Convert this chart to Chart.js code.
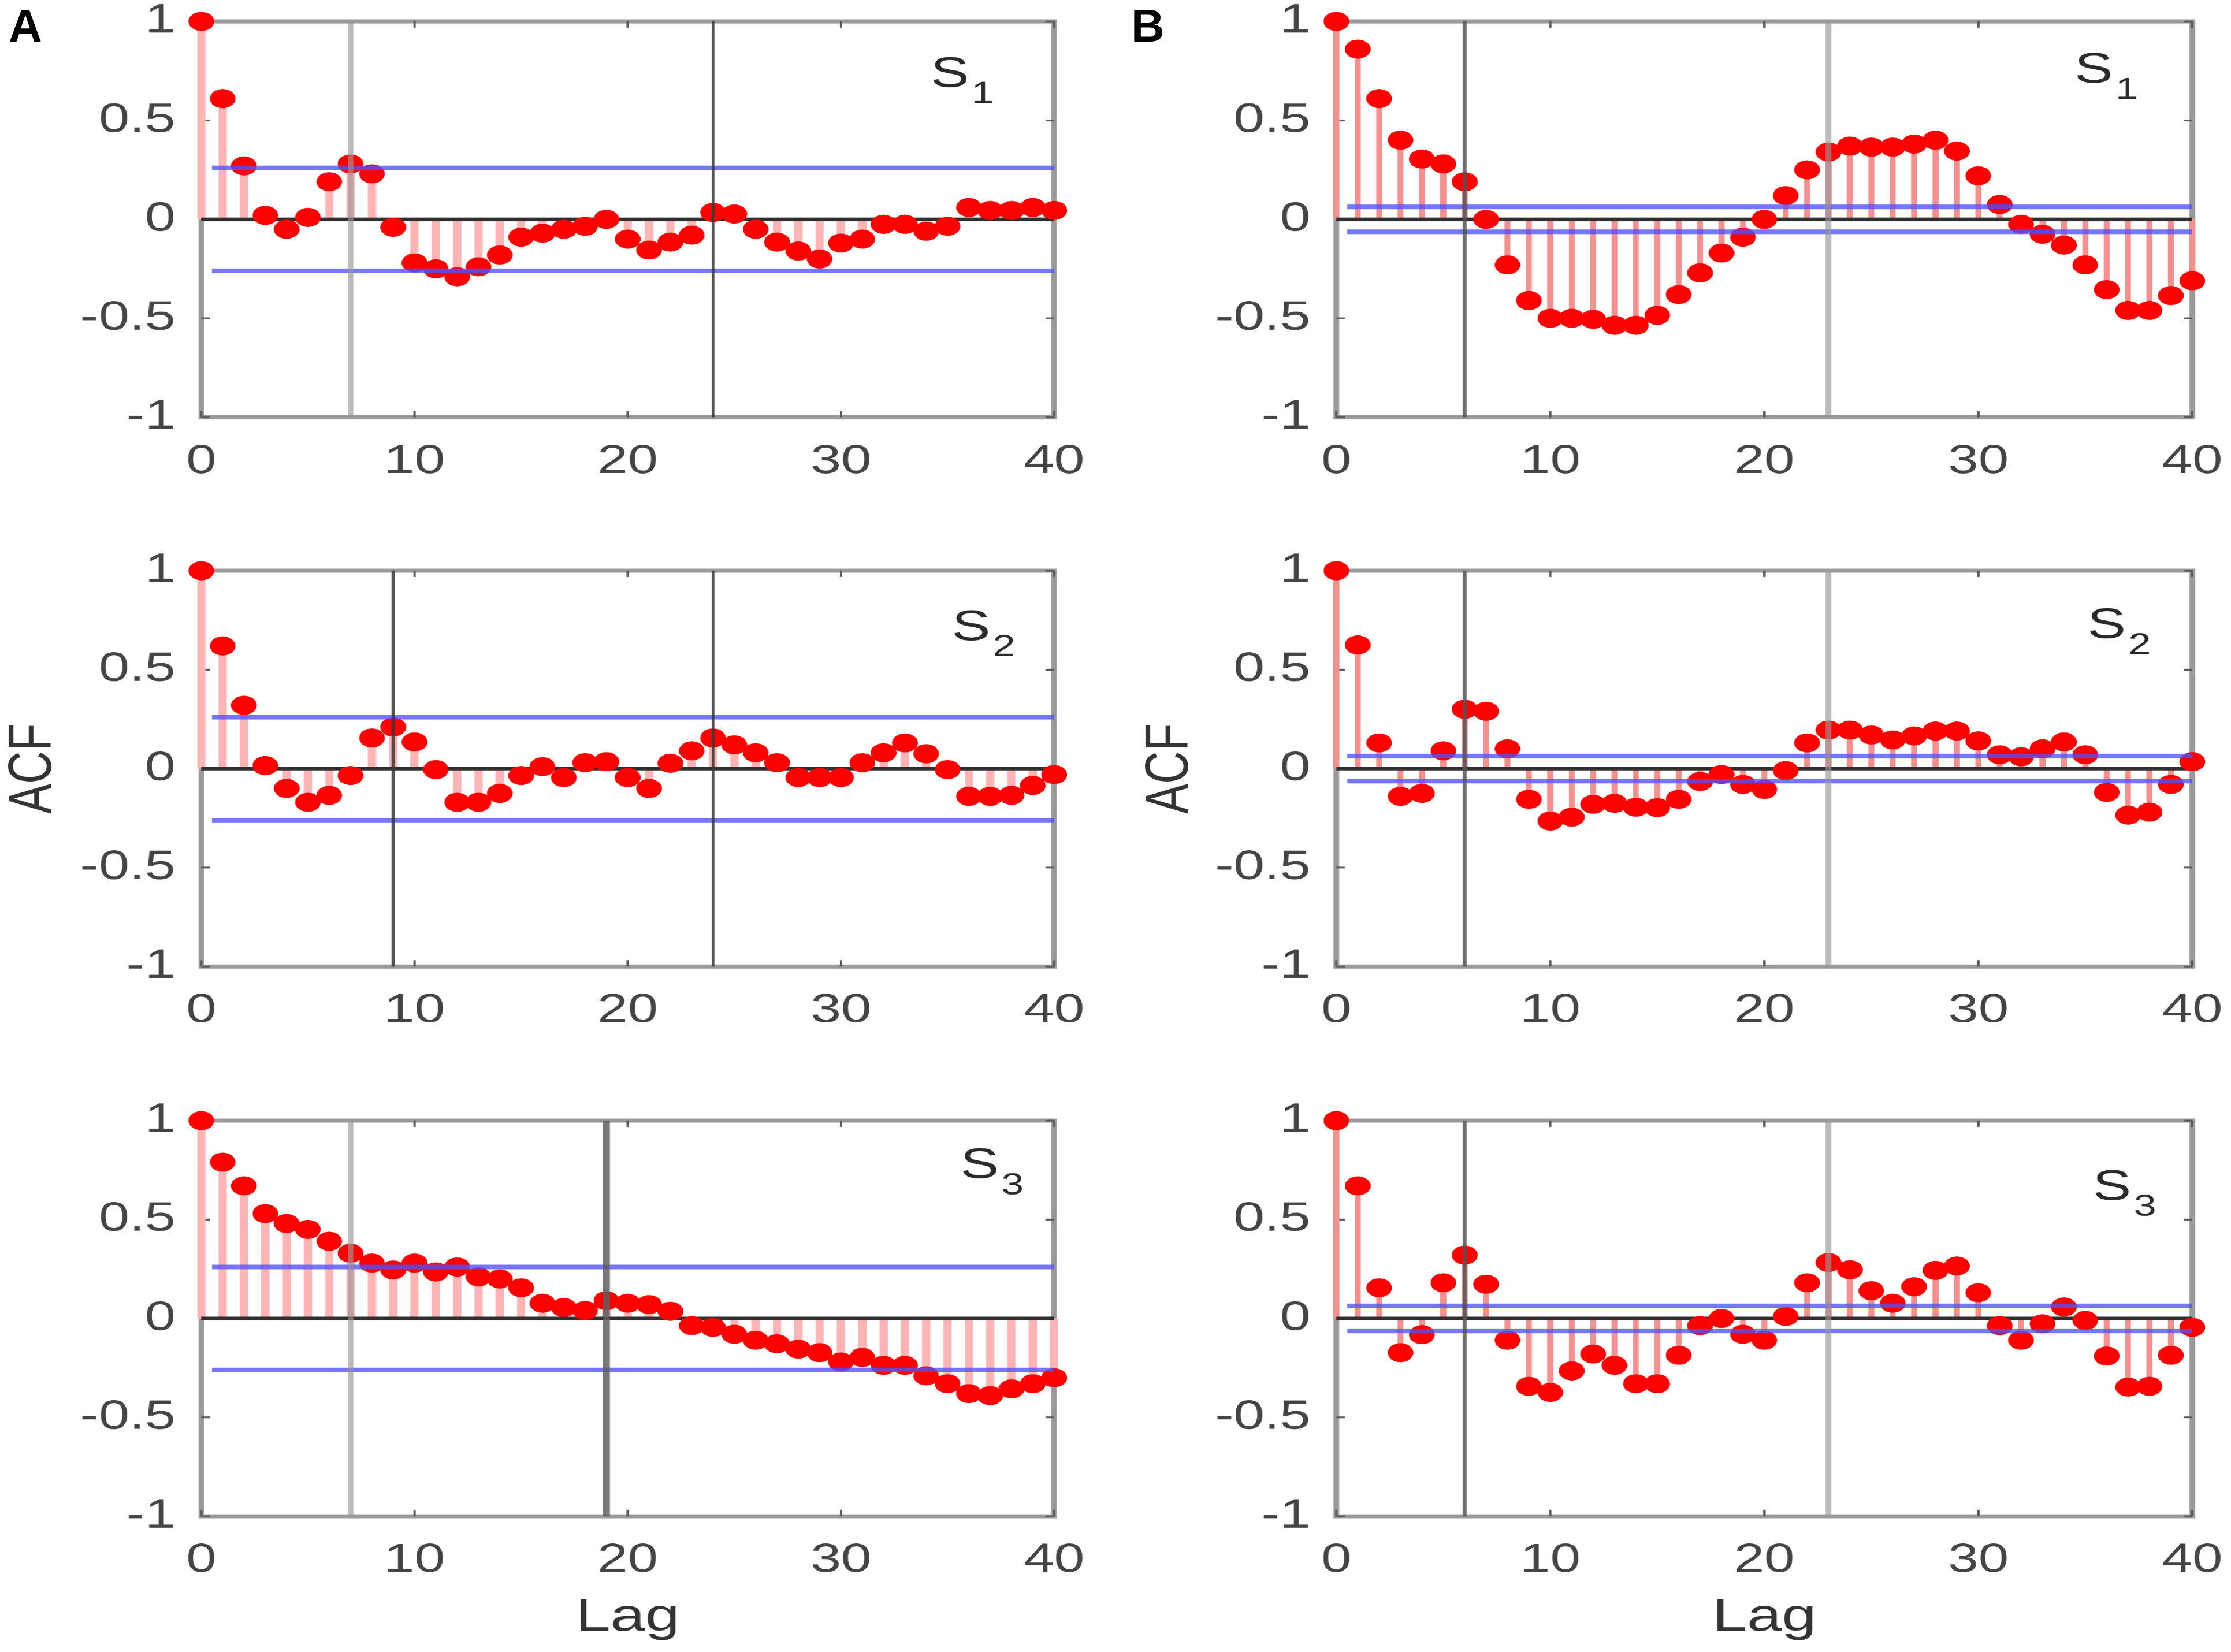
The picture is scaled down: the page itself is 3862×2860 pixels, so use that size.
<!DOCTYPE html>
<html>
<head>
<meta charset="utf-8">
<script src="https://cdn.jsdelivr.net/npm/chart.js@4.4.1/dist/chart.umd.min.js"></script>
<style>
  html, body { margin:0; padding:0; background:#fff; width:3862px; height:2860px; overflow:hidden; }
  #fig { position:absolute; left:0; top:0; width:2860px; height:2860px; transform:scaleX(1.35035); transform-origin:0 0; }
  #fig canvas { position:absolute; }
  .plabel { position:absolute; font-family:'Liberation Sans', Arial, sans-serif; font-weight:bold; font-size:80px; line-height:80px; color:#000; }
</style>
</head>
<body>
<div id="fig">
  <canvas id="cA1" width="1430" height="862" style="left:0px;top:0px"></canvas>
  <canvas id="cB1" width="1430" height="862" style="left:1430px;top:0px"></canvas>
  <canvas id="cA2" width="1430" height="887" style="left:0px;top:926px"></canvas>
  <canvas id="cB2" width="1430" height="887" style="left:1430px;top:926px"></canvas>
  <canvas id="cA3" width="1430" height="963" style="left:0px;top:1878px"></canvas>
  <canvas id="cB3" width="1430" height="963" style="left:1430px;top:1878px"></canvas>
</div>
<div class="plabel" style="left:15px;top:5px">A</div>
<div class="plabel" style="left:1958px;top:5px">B</div>

<script>
// ---------------- DATA ----------------
const lags = [0,1,2,3,4,5,6,7,8,9,10,11,12,13,14,15,16,17,18,19,20,21,22,23,24,25,26,27,28,29,30,31,32,33,34,35,36,37,38,39,40];
const xTickValues = [0, 10, 20, 30, 40];
const xTickLabels = ['0', '10', '20', '30', '40'];
const yTickValues = [-1, -0.5, 0, 0.5, 1];
const yTickLabels = ['-1', '-0.5', '0', '0.5', '1'];

const acfA1 = [1, 0.61, 0.27, 0.02, -0.05, 0.01, 0.19, 0.28, 0.23, -0.04, -0.22, -0.25, -0.29, -0.24, -0.18, -0.09, -0.07, -0.05, -0.035, 0.0, -0.10, -0.155, -0.115, -0.08, 0.035, 0.027, -0.05, -0.115, -0.16, -0.2, -0.12, -0.10, -0.025, -0.025, -0.06, -0.035, 0.06, 0.045, 0.045, 0.06, 0.045];
const acfA2 = [1, 0.62, 0.32, 0.015, -0.10, -0.17, -0.135, -0.035, 0.155, 0.21, 0.135, -0.005, -0.17, -0.17, -0.125, -0.035, 0.01, -0.045, 0.03, 0.035, -0.045, -0.10, 0.027, 0.09, 0.155, 0.12, 0.08, 0.03, -0.045, -0.045, -0.045, 0.03, 0.08, 0.13, 0.075, -0.005, -0.14, -0.14, -0.135, -0.085, -0.03];
const acfA3 = [1, 0.79, 0.67, 0.53, 0.48, 0.45, 0.39, 0.33, 0.28, 0.245, 0.28, 0.235, 0.26, 0.21, 0.20, 0.155, 0.077, 0.055, 0.04, 0.09, 0.077, 0.07, 0.036, -0.036, -0.045, -0.08, -0.11, -0.128, -0.155, -0.173, -0.22, -0.197, -0.237, -0.237, -0.29, -0.33, -0.38, -0.39, -0.356, -0.33, -0.30];
const acfB1 = [1, 0.86, 0.61, 0.40, 0.305, 0.28, 0.19, 0.0, -0.23, -0.41, -0.50, -0.50, -0.505, -0.535, -0.535, -0.485, -0.38, -0.27, -0.17, -0.09, 0.0, 0.12, 0.25, 0.34, 0.37, 0.365, 0.365, 0.38, 0.40, 0.345, 0.22, 0.075, -0.025, -0.075, -0.13, -0.23, -0.355, -0.46, -0.46, -0.385, -0.31];
const acfB2 = [1, 0.625, 0.13, -0.14, -0.125, 0.09, 0.30, 0.29, 0.10, -0.155, -0.265, -0.245, -0.18, -0.175, -0.195, -0.197, -0.155, -0.065, -0.03, -0.08, -0.105, -0.01, 0.13, 0.195, 0.195, 0.17, 0.145, 0.165, 0.19, 0.19, 0.14, 0.07, 0.06, 0.10, 0.135, 0.07, -0.12, -0.235, -0.22, -0.08, 0.035];
const acfB3 = [1, 0.67, 0.155, -0.173, -0.082, 0.18, 0.32, 0.173, -0.11, -0.343, -0.374, -0.265, -0.18, -0.237, -0.33, -0.33, -0.186, -0.036, 0.0, -0.08, -0.11, 0.01, 0.18, 0.283, 0.246, 0.14, 0.077, 0.16, 0.243, 0.265, 0.13, -0.036, -0.11, -0.027, 0.058, -0.01, -0.19, -0.347, -0.343, -0.186, -0.045];

const boundA1 = 0.26, boundA2 = 0.26, boundA3 = 0.26;
const boundB1 = 0.063, boundB2 = 0.063, boundB3 = 0.063;
const boundStartLag = 0.5, boundEndLag = 40;

const marksA1 = [7, 24];
const marksA2 = [9, 24];
const marksA3 = [7, 19];
const marksB1 = [6, 23];
const marksB2 = [6, 23];
const marksB3 = [6, 23];

const seriesSubs = ['1', '2', '3'];

// ---------------- STYLE / LAYOUT ----------------
const FONT = "'Liberation Sans', Arial, Helvetica, sans-serif";
const LIGHT = { color: 'rgba(150,150,150,0.65)', w: 7 };
const DARK = { color: 'rgba(55,55,55,0.85)', w: 4 };
const DARKTHICK = { color: 'rgba(95,95,95,0.85)', w: 9 };
const MID = { color: 'rgba(85,85,85,0.85)', w: 5 };

const colLayout = {
  A: { yw: 258, padR: 79, stem: '#ffb5b5', stemW: 10, titlePad: 5 },
  B: { yw: 283, padR: 50, stem: '#f39090', stemW: 7, titlePad: 32 }
};
const rowLayout = [
  { padTop: 37, xh: 140 },
  { padTop: 62, xh: 140 },
  { padTop: 62, xh: 216 }
];

const panels = [
  { id: 'cA1', col: 'A', row: 0, acf: acfA1, bound: boundA1, marks: marksA1, markStyle: [LIGHT, DARK], sPos: [34.2, 0.67] },
  { id: 'cA2', col: 'A', row: 1, acf: acfA2, bound: boundA2, marks: marksA2, markStyle: [DARK, DARK], sPos: [35.2, 0.65] },
  { id: 'cA3', col: 'A', row: 2, acf: acfA3, bound: boundA3, marks: marksA3, markStyle: [LIGHT, DARKTHICK], sPos: [35.6, 0.71] },
  { id: 'cB1', col: 'B', row: 0, acf: acfB1, bound: boundB1, marks: marksB1, markStyle: [MID, LIGHT], sPos: [34.5, 0.69] },
  { id: 'cB2', col: 'B', row: 1, acf: acfB2, bound: boundB2, marks: marksB2, markStyle: [MID, LIGHT], sPos: [35.1, 0.66] },
  { id: 'cB3', col: 'B', row: 2, acf: acfB3, bound: boundB3, marks: marksB3, markStyle: [MID, LIGHT], sPos: [35.35, 0.60] }
];

const framePlugin = {
  id: 'frame',
  beforeDatasetsDraw(chart) {
    const { ctx, chartArea: a, scales: { x, y } } = chart;
    ctx.save();
    ctx.strokeStyle = '#9a9a9a';
    ctx.lineWidth = 7;
    ctx.strokeRect(a.left, a.top, a.right - a.left, a.bottom - a.top);
    ctx.strokeStyle = '#5a5a5a';
    ctx.lineWidth = 3;
    ctx.beginPath();
    xTickValues.forEach(v => {
      const px = x.getPixelForValue(v);
      ctx.moveTo(px, a.top); ctx.lineTo(px, a.top + 11);
      ctx.moveTo(px, a.bottom); ctx.lineTo(px, a.bottom - 11);
    });
    yTickValues.forEach(v => {
      const py = y.getPixelForValue(v);
      ctx.moveTo(a.left, py); ctx.lineTo(a.left + 11, py);
      ctx.moveTo(a.right, py); ctx.lineTo(a.right - 11, py);
    });
    ctx.stroke();
    ctx.restore();
  },
  afterDraw(chart, args, opts) {
    const { ctx, scales: { x, y } } = chart;
    const px = x.getPixelForValue(opts.pos[0]);
    const py = y.getPixelForValue(opts.pos[1]);
    ctx.save();
    ctx.fillStyle = '#2a2a2a';
    ctx.textAlign = 'left';
    ctx.textBaseline = 'alphabetic';
    ctx.font = '74px ' + FONT;
    ctx.fillText('S', px, py);
    const w = ctx.measureText('S').width;
    ctx.font = '52px ' + FONT;
    ctx.fillText(opts.sub, px + w + 3, py + 28);
    ctx.restore();
  }
};

function makeChart(p) {
  const c = colLayout[p.col];
  const r = rowLayout[p.row];
  const pts = p.acf.map((v, i) => ({ x: lags[i], y: v }));
  const blue = 'rgba(80,80,250,0.78)';
  const datasets = [
    { type: 'bar', data: pts, backgroundColor: c.stem, borderWidth: 0, barThickness: c.stemW, order: 6, clip: false },
    { type: 'line', data: [{ x: lags[0], y: 0 }, { x: lags[lags.length - 1], y: 0 }], borderColor: '#2e2e2e', borderWidth: 6, pointRadius: 0, order: 5, clip: false },
    { type: 'scatter', data: pts, pointRadius: 16.5, pointHoverRadius: 16.5, pointBackgroundColor: '#ff0000', pointBorderWidth: 0, order: 4, clip: false },
    { type: 'line', data: [{ x: boundStartLag, y: p.bound }, { x: boundEndLag, y: p.bound }], borderColor: blue, borderWidth: 8, pointRadius: 0, order: 3, clip: false },
    { type: 'line', data: [{ x: boundStartLag, y: -p.bound }, { x: boundEndLag, y: -p.bound }], borderColor: blue, borderWidth: 8, pointRadius: 0, order: 3, clip: false }
  ];
  p.marks.forEach((m, k) => {
    const st = p.markStyle[k];
    datasets.push({ type: 'line', data: [{ x: m, y: yTickValues[0] }, { x: m, y: yTickValues[yTickValues.length - 1] }], borderColor: st.color, borderWidth: st.w, pointRadius: 0, order: 2, clip: false });
  });

  new Chart(document.getElementById(p.id), {
    type: 'bar',
    data: { datasets },
    plugins: [framePlugin],
    options: {
      responsive: false,
      animation: false,
      devicePixelRatio: 1.35,
      events: [],
      layout: { padding: { left: 0, top: r.padTop, right: c.padR, bottom: 0 } },
      plugins: {
        legend: { display: false },
        tooltip: { enabled: false },
        frame: { pos: p.sPos, sub: seriesSubs[p.row] }
      },
      scales: {
        x: {
          type: 'linear', min: 0, max: 40, offset: false,
          grid: { display: false, drawTicks: true, tickLength: 42 },
          border: { display: false },
          afterBuildTicks: s => { s.ticks = xTickValues.map(v => ({ value: v })); },
          ticks: {
            autoSkip: false, maxRotation: 0, minRotation: 0, padding: 0, color: '#444',
            font: { family: FONT, size: 70, lineHeight: 1 },
            callback: (v, i) => xTickLabels[i]
          },
          title: p.row === 2
            ? { display: true, text: 'Lag', color: '#333', font: { family: FONT, size: 80, lineHeight: 1 }, padding: { top: 0, bottom: 0 } }
            : { display: false },
          afterFit: s => { s.height = r.xh; }
        },
        y: {
          type: 'linear', min: -1, max: 1,
          grid: { display: false, drawTicks: true, tickLength: 33 },
          border: { display: false },
          afterBuildTicks: s => { s.ticks = yTickValues.map(v => ({ value: v })); },
          ticks: {
            autoSkip: false, padding: 0, color: '#444',
            font: { family: FONT, size: 71, lineHeight: 1 },
            callback: (v, i) => yTickLabels[i]
          },
          title: p.row === 1
            ? { display: true, text: 'ACF', color: '#333', font: { family: FONT, size: 78, lineHeight: 1 }, padding: { top: c.titlePad, bottom: 0 } }
            : { display: false },
          afterFit: s => { s.width = c.yw; }
        }
      }
    }
  });
}

panels.forEach(makeChart);
</script>
</body>
</html>
